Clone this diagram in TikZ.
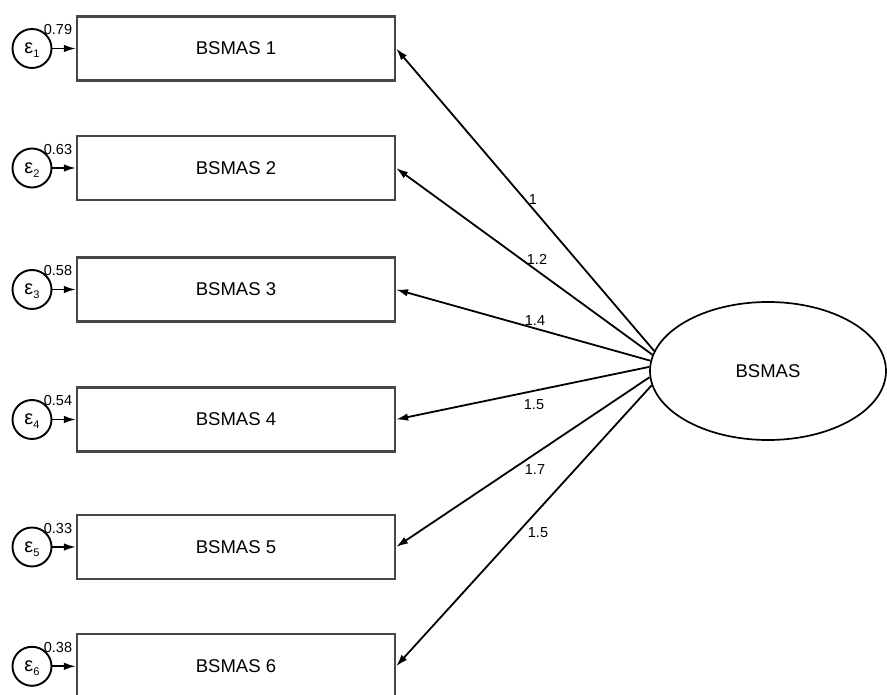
\documentclass[tikz,border=0pt]{standalone}
\usepackage{fontspec}
\setmainfont{Liberation Sans}
\usetikzlibrary{arrows.meta,shapes.geometric}
\newcommand{\epsl}[1]{\raisebox{-2pt}{ε}\raisebox{-6pt}[0pt][0pt]{\fontsize{11}{11}\selectfont #1}}
\begin{document}
\begin{tikzpicture}[x=1pt,y=-1pt,
  obs/.style={draw=black!72, line width=2.2pt, minimum width=318pt, minimum height=64pt, inner sep=0pt, font=\fontsize{18.5}{20}\selectfont},
  err/.style={circle, draw, line width=1.9pt, minimum size=39pt, inner sep=0pt, font=\fontsize{20}{20}\selectfont},
  lat/.style={ellipse, draw, line width=1.7pt, minimum width=236pt, minimum height=138pt, inner sep=0pt, font=\fontsize{18.5}{20}\selectfont},
  load/.style={-{Latex[length=12pt,width=7.5pt]}, line width=1.8pt},
  lbl/.style={font=\fontsize{14.5}{14.5}\selectfont, inner sep=0pt},
]
\useasboundingbox (0,0) rectangle (887,695);
\fill[white] (0,0) rectangle (887,695);

% observed items
\node[obs] (b1) at (236,48.5)  {BSMAS 1};
\node[obs] (b2) at (236,168)   {BSMAS 2};
\node[obs] (b3) at (236,289.5) {BSMAS 3};
\node[obs] (b4) at (236,419.5) {BSMAS 4};
\node[obs] (b5) at (236,547)   {BSMAS 5};
\node[obs] (b6) at (236,666.3) {BSMAS 6};

% error terms
\node[err] (e1) at (32,48.5)  {\epsl{1}};
\node[err] (e2) at (32,168)   {\epsl{2}};
\node[err] (e3) at (32,289.5) {\epsl{3}};
\node[err] (e4) at (32,419.5) {\epsl{4}};
\node[err] (e5) at (32,547)   {\epsl{5}};
\node[err] (e6) at (32,666.3) {\epsl{6}};

% variances
\node[lbl] (v1) at (58,30)    {0.79};
\node[lbl] (v2) at (58,149.5) {0.63};
\node[lbl] (v3) at (58,271)   {0.58};
\node[lbl] (v4) at (58,401)   {0.54};
\node[lbl] (v5) at (58,528.5) {0.33};
\node[lbl] (v6) at (58,647.8) {0.38};

\foreach \i in {1,...,6} { \draw[load] (e\i) -- (b\i); }

% latent
\node[lat] (L) at (768,371) {BSMAS};

\draw[load] (L.170) -- (b1.east);
\draw[load] (L.172) -- (b2.east);
\draw[load] (L.175) -- (b3.east);
\draw[load] (L.178) -- (b4.east);
\draw[load] (L.183) -- (b5.east);
\draw[load] (L.187) -- (b6.east);

% loadings
\node[lbl] (l1) at (533,200) {1};
\node[lbl] (l2) at (537,259) {1.2};
\node[lbl] (l3) at (535,321) {1.4};
\node[lbl] (l4) at (534,405) {1.5};
\node[lbl] (l5) at (535,470) {1.7};
\node[lbl] (l6) at (538,533) {1.5};
\end{tikzpicture}
\end{document}
